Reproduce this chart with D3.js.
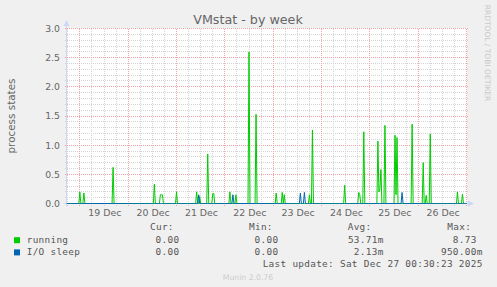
<!DOCTYPE html>
<html><head><meta charset="utf-8">
<script src="https://cdn.jsdelivr.net/npm/d3@7"></script>
<style>
html,body{margin:0;padding:0;background:#f0f0f0;overflow:hidden}
text{white-space:pre}
</style>
</head><body><svg id="c" width="497" height="287"></svg>
<script>
// ---------- data ----------
const title = "VMstat - by week";
const yLabel = "process states";
const yTicks = [0, 0.5, 1, 1.5, 2, 2.5, 3];
const yTickLabels = ["0.0", "0.5", "1.0", "1.5", "2.0", "2.5", "3.0"];
const dayDates = ["2025-12-19","2025-12-20","2025-12-21","2025-12-22","2025-12-23","2025-12-24","2025-12-25","2025-12-26"];
const dayLabels = ["19 Dec","20 Dec","21 Dec","22 Dec","23 Dec","24 Dec","25 Dec","26 Dec"];
const viewStart = "2025-12-18T17:22";
const viewEnd = "2025-12-27T00:00";
const firstSample = "2025-12-18T17:30";

const runningTimes = [
 "2025-12-19T00:00","2025-12-19T02:00","2025-12-19T16:30","2025-12-20T13:00",
 "2025-12-20T16:00","2025-12-20T16:30","2025-12-20T17:00","2025-12-21T00:00",
 "2025-12-21T10:00","2025-12-21T11:30","2025-12-21T15:30","2025-12-21T18:00",
 "2025-12-21T18:30","2025-12-22T02:30","2025-12-22T05:30","2025-12-22T12:00",
 "2025-12-22T15:30","2025-12-23T01:30","2025-12-23T04:30","2025-12-23T05:30",
 "2025-12-23T18:00","2025-12-23T19:30","2025-12-24T11:30","2025-12-24T18:30",
 "2025-12-24T19:00","2025-12-24T21:00","2025-12-25T04:00","2025-12-25T04:30",
 "2025-12-25T05:00","2025-12-25T05:30","2025-12-25T07:30","2025-12-25T12:30",
 "2025-12-25T13:00","2025-12-25T13:30","2025-12-25T21:00","2025-12-26T02:30",
 "2025-12-26T04:00","2025-12-26T06:00","2025-12-26T19:30","2025-12-26T22:00"];
const runningValues = [
 0.20,0.18,0.62,0.33,
 0.15,0.15,0.15,0.20,
 0.20,0.12,0.85,0.17,
 0.17,0.20,0.15,2.60,
 1.53,0.18,0.19,0.15,
 0.15,1.26,0.31,0.19,
 0.15,1.23,1.07,0.20,
 0.25,0.58,1.34,1.17,
 0.15,1.13,1.36,0.70,
 0.14,1.19,0.20,0.16];
const ioTimes = ["2025-12-21T11:00","2025-12-22T04:00","2025-12-23T13:30","2025-12-23T15:30","2025-12-25T16:00"];
const ioValues = [0.15,0.15,0.18,0.19,0.19];

const seriesNames = ["running", "I/O sleep"];
const seriesColors = ["#00cc00", "#0066b3"];
const legendHeaders = ["Cur:", "Min:", "Avg:", "Max:"];
const curVals = ["0.00 ", "0.00 "];
const minVals = ["0.00 ", "0.00 "];
const avgVals = ["53.71m", " 2.13m"];
const maxVals = ["  8.73 ", "950.00m"];
const lastUpdate = "Last update: Sat Dec 27 00:30:23 2025";
const versionText = "Munin 2.0.76";
const watermark = "RRDTOOL / TOBI OETIKER";

// ---------- build ----------
const parse = d3.utcParse("%Y-%m-%dT%H:%M");
const parseDay = d3.utcParse("%Y-%m-%d");
const t0 = parse(viewStart), t1 = parse(viewEnd);

function buildSeries(times, values) {
  const m = new Map(times.map((t, i) => [+parse(t), values[i]]));
  return d3.utcMinute.every(30).range(parse(firstSample), new Date(+t1 + 1))
    .map(d => ({t: d, v: m.has(+d) ? m.get(+d) : 0}));
}
const series = [buildSeries(runningTimes, runningValues), buildSeries(ioTimes, ioValues)];

const L = 66.5, R = 466.5, T = 28.5, B = 203.5;
const x = d3.scaleUtc().domain([t0, t1]).range([L, R]);
const y = d3.scaleLinear().domain([0, 3]).range([B, T]);
const px = v => Math.round(v - 0.5) + 0.5;

const svg = d3.select("#c");
svg.append("rect").attr("width", 497).attr("height", 287).attr("fill", "#f0f0f0");
svg.append("rect").attr("x", 67).attr("y", 28).attr("width", 400).attr("height", 176).attr("fill", "#ffffff");

const minorCol = "#d4d4d4", majorCol = "#f2a3a3";
const g = svg.append("g").attr("shape-rendering", "crispEdges");
d3.range(0, 31).filter(i => i % 5 !== 0).forEach(i => {
  g.append("line").attr("x1", L - 2).attr("x2", R + 1).attr("y1", px(y(i / 10))).attr("y2", px(y(i / 10)))
    .attr("stroke", minorCol).attr("stroke-dasharray", "1,1");
});
d3.utcHour.every(6).range(t0, new Date(+t1 + 1)).filter(d => d.getUTCHours() !== 0).forEach(d => {
  g.append("line").attr("x1", px(x(d))).attr("x2", px(x(d))).attr("y1", T).attr("y2", B + 2)
    .attr("stroke", minorCol).attr("stroke-dasharray", "1,1");
});
yTicks.forEach(v => {
  g.append("line").attr("x1", L - 2).attr("x2", R + 1).attr("y1", px(y(v))).attr("y2", px(y(v)))
    .attr("stroke", majorCol).attr("stroke-dasharray", "1,1");
});
d3.utcDay.range(t0, new Date(+t1 + 1)).forEach(d => {
  g.append("line").attr("x1", px(x(d))).attr("x2", px(x(d))).attr("y1", T).attr("y2", B + 2)
    .attr("stroke", majorCol).attr("stroke-dasharray", "1,1");
});

const axisCol = "#cfd6f8";
svg.append("line").attr("x1", L).attr("x2", L).attr("y1", B + 3).attr("y2", 23).attr("stroke", axisCol);
svg.append("path").attr("d", `M${L-3},26L${L+3},26L${L},20Z`).attr("fill", axisCol);
svg.append("line").attr("x1", L - 3).attr("x2", R + 3).attr("y1", B).attr("y2", B).attr("stroke", axisCol);
svg.append("path").attr("d", `M468,${B-3}L468,${B+3}L474,${B}Z`).attr("fill", axisCol);

const line = d3.line().x(d => x(d.t)).y(d => y(d.v));
series.forEach((s, i) => {
  svg.append("path").datum(s).attr("d", line).attr("fill", "none")
    .attr("stroke", seriesColors[i]).attr("stroke-width", 1);
});

const fontCol = "#666666";
yTicks.forEach((v, i) => {
  svg.append("text").attr("x", 60).attr("y", y(v) + 3.4).attr("text-anchor", "end")
    .attr("font-family", "DejaVu Sans").attr("font-size", 9.3).attr("fill", fontCol).text(yTickLabels[i]);
});
dayDates.forEach((d, i) => {
  const noon = d3.utcHour.offset(parseDay(d), 12);
  svg.append("text").attr("x", x(noon) + 0.8).attr("y", 215.7).attr("text-anchor", "middle")
    .attr("font-family", "DejaVu Sans").attr("font-size", 9.4).attr("fill", fontCol).text(dayLabels[i]);
});
svg.append("text").attr("x", 248).attr("y", 23.5).attr("text-anchor", "middle")
  .attr("font-family", "DejaVu Sans").attr("font-size", 12.7).attr("fill", fontCol).text(title);
svg.append("text").attr("transform", "translate(14.5,116) rotate(-90)").attr("text-anchor", "middle")
  .attr("font-family", "DejaVu Sans").attr("font-size", 10.4).attr("fill", fontCol).text(yLabel);
svg.append("text").attr("transform", "translate(485,53) rotate(90)").attr("text-anchor", "middle")
  .attr("font-family", "DejaVu Sans").attr("font-size", 7.5).attr("fill", "#c8c8c8").text(watermark);

const mono = {family: "DejaVu Sans Mono", size: 9.4, ls: 0.3};
function mtext(xp, yp, s, anchor) {
  return svg.append("text").attr("x", xp).attr("y", yp).attr("text-anchor", anchor || "start")
    .attr("font-family", mono.family).attr("font-size", mono.size).attr("letter-spacing", mono.ls)
    .attr("fill", "#555555").text(s);
}
const headerX = [150, 249, 347.7, 447.3];
legendHeaders.forEach((h, i) => mtext(headerX[i], 230, h));
const rowY = [242.8, 255];
const fieldEnd = [185.3, 284.3, 383.6, 482.6];
seriesNames.forEach((n, i) => {
  svg.append("rect").attr("x", 14).attr("y", rowY[i] - 5.6).attr("width", 6).attr("height", 6)
    .attr("fill", seriesColors[i]);
  mtext(26.7, rowY[i], n);
  mtext(fieldEnd[0], rowY[i], curVals[i], "end");
  mtext(fieldEnd[1], rowY[i], minVals[i], "end");
  mtext(fieldEnd[2], rowY[i], avgVals[i], "end");
  mtext(fieldEnd[3], rowY[i], maxVals[i], "end");
});
mtext(482.6, 266.7, lastUpdate, "end");
svg.append("text").attr("x", 248).attr("y", 279.5).attr("text-anchor", "middle")
  .attr("font-family", "DejaVu Sans").attr("font-size", 7.7).attr("fill", "#cccccc").text(versionText);
</script>
</body></html>
